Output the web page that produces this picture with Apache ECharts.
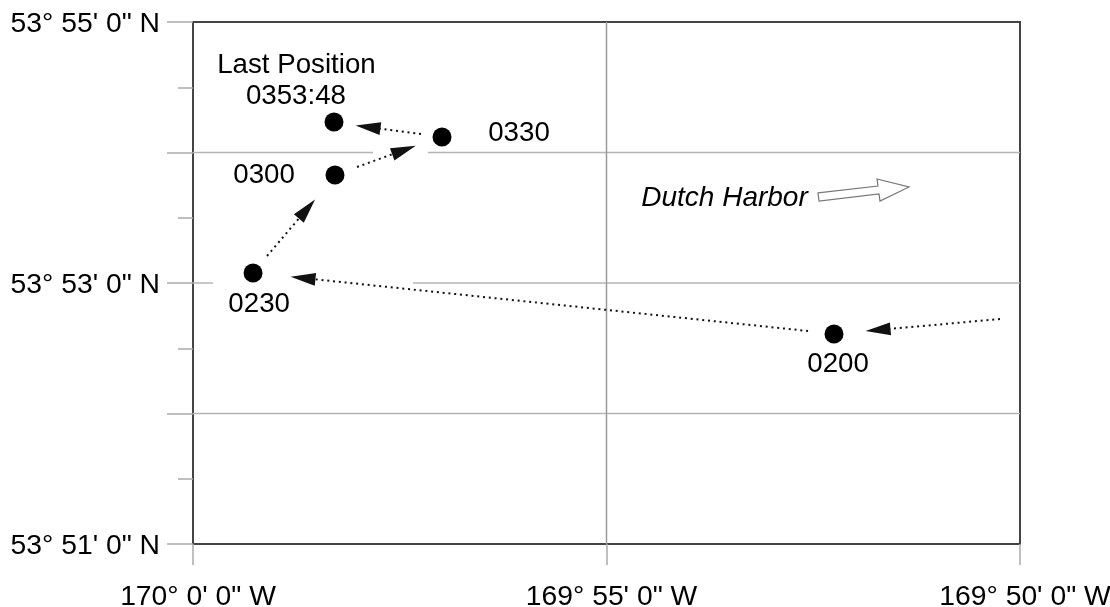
<!DOCTYPE html>
<html>
<head>
<meta charset="utf-8">
<style>html,body{margin:0;padding:0;background:#fff}#c{width:1110px;height:607px}</style>
<script src="https://cdn.jsdelivr.net/npm/echarts@6/dist/echarts.min.js"></script>
</head>
<body>
<div id="c"></div>
<script>
// x = minutes west of 170° 0' 0" W towards 169° 50'; y = minutes past 53° 0' N
const xTicks = [0, 5, 10];
const xTickLabels = ['170° 0\' 0" W', '169° 55\' 0" W', '169° 50\' 0" W'];
const yTicks = [51, 53, 55];
const yTickLabels = ['53° 51\' 0" N', '53° 53\' 0" N', '53° 55\' 0" N'];

const positions = [
  [7.751, 52.609], [0.726, 53.077], [1.717, 53.828], [3.011, 54.119], [1.705, 54.234]
];
const textLabels = [
  ['0200', 7.80, 52.38],
  ['0230', 0.80, 52.84],
  ['0300', 0.859, 53.828],
  ['0330', 3.942, 54.15],
  ['0353:48', 1.245, 54.433],
  ['Last Position', 1.251, 54.671]
];
const harborLabel = ['Dutch Harbor', 6.427, 53.652];
const harborArrow = [
  [7.557, 53.690], [8.283, 53.743], [8.271, 53.797], [8.658, 53.736],
  [8.307, 53.628], [8.295, 53.682], [7.570, 53.628]
];
const trackSegments = [
  [[9.758, 52.724], [8.283, 52.640]],
  [[7.437, 52.632], [1.330, 53.038]],
  [[0.895, 53.207], [1.378, 53.567]],
  [[1.983, 53.889], [2.551, 54.019]],
  [[2.757, 54.142], [2.116, 54.195]]
];
const horizontalRules = [
  [[0, 54], [2.177, 54]], [[2.84, 54], [10, 54]],
  [[0, 53], [0.242, 53]], [[2.66, 53], [10, 53]],
  [[0, 52], [10, 52]]
];
const verticalRules = [[[5, 51], [5, 55]]];

const FONT = '"Liberation Sans", Arial, sans-serif';
const TXT = '#000';

const ruleSeries = (segs, color) => segs.map(s => ({
  type: 'line', data: s, symbol: 'none', silent: true, z: 1, animation: false,
  lineStyle: {color, width: 1.5}
}));

const chart = echarts.init(document.getElementById('c'), null, {renderer: 'canvas'});
chart.setOption({
  animation: false,
  backgroundColor: '#fff',
  grid: {left: 193, top: 22, right: 90, bottom: 63, show: true, borderColor: '#444', borderWidth: 2, backgroundColor: '#fff', outerBoundsMode: 'none'},
  xAxis: {
    type: 'value', min: 0, max: 10, interval: 5,
    axisLine: {show: false},
    splitLine: {show: false},
    axisTick: {show: true, length: 21, lineStyle: {color: '#aaa', width: 1.5}},
    axisLabel: {
      margin: 39, fontFamily: FONT, fontSize: 28.3, color: TXT, hideOverlap: false,
      showMinLabel: true, showMaxLabel: true, padding: [0, 0, 0, 10],
      formatter: v => { const i = xTicks.indexOf(v); return i < 0 ? '' : xTickLabels[i]; }
    }
  },
  yAxis: {
    type: 'value', min: 51, max: 55, interval: 1,
    axisLine: {show: false},
    splitLine: {show: false},
    axisTick: {show: true, length: 26, lineStyle: {color: '#aaa', width: 1.5}},
    minorTick: {show: true, splitNumber: 2, length: 15, lineStyle: {color: '#aaa', width: 1.5}},
    axisLabel: {
      margin: 33, fontFamily: FONT, fontSize: 28.3, color: TXT,
      verticalAlign: 'top', lineHeight: 28, padding: [-12, 0, 0, 0],
      showMinLabel: true, showMaxLabel: true,
      formatter: v => { const i = yTicks.indexOf(v); return i < 0 ? '' : yTickLabels[i]; }
    }
  },
  series: [
    ...ruleSeries(horizontalRules, '#b5b5b5'),
    ...ruleSeries(verticalRules, '#9a9a9a'),
    {
      type: 'scatter', data: [], z: 3, silent: true,
      markLine: {
        silent: true, animation: false, precision: 4,
        symbol: ['none', 'path://M5 0 L10 24 L0 24 Z'],
        symbolSize: [13, 25],
        label: {show: false},
        lineStyle: {type: [2, 3.8], color: '#111', width: 2, cap: 'butt', opacity: 1},
        emphasis: {disabled: true},
        data: trackSegments.map(s => [
          {coord: s[0], symbol: 'none'},
          {coord: s[1]}
        ])
      }
    },
    {
      type: 'scatter', data: positions, symbol: 'circle', symbolSize: 19, z: 5, silent: true,
      itemStyle: {color: '#000', opacity: 1}
    },
    {
      type: 'scatter', z: 6, silent: true, symbolSize: 0, itemStyle: {opacity: 1},
      data: textLabels.map(t => ({
        value: [t[1], t[2]],
        label: {show: true, position: 'inside', formatter: t[0], fontFamily: FONT, fontSize: 27.7, color: TXT, opacity: 1}
      }))
    },
    {
      type: 'scatter', z: 6, silent: true, symbolSize: 0, itemStyle: {opacity: 1},
      data: [{
        value: [harborLabel[1], harborLabel[2]],
        label: {show: true, position: 'inside', formatter: harborLabel[0], fontFamily: FONT, fontStyle: 'italic', fontSize: 28, color: TXT, opacity: 1}
      }]
    },
    {
      type: 'custom', z: 6, silent: true, coordinateSystem: 'cartesian2d',
      data: [[harborArrow[0][0], harborArrow[0][1]]],
      renderItem: (p, api) => ({
        type: 'polygon',
        shape: {points: harborArrow.map(a => api.coord(a))},
        style: {fill: '#fff', stroke: '#777', lineWidth: 1.2}
      })
    }
  ]
});
</script>
</body>
</html>
